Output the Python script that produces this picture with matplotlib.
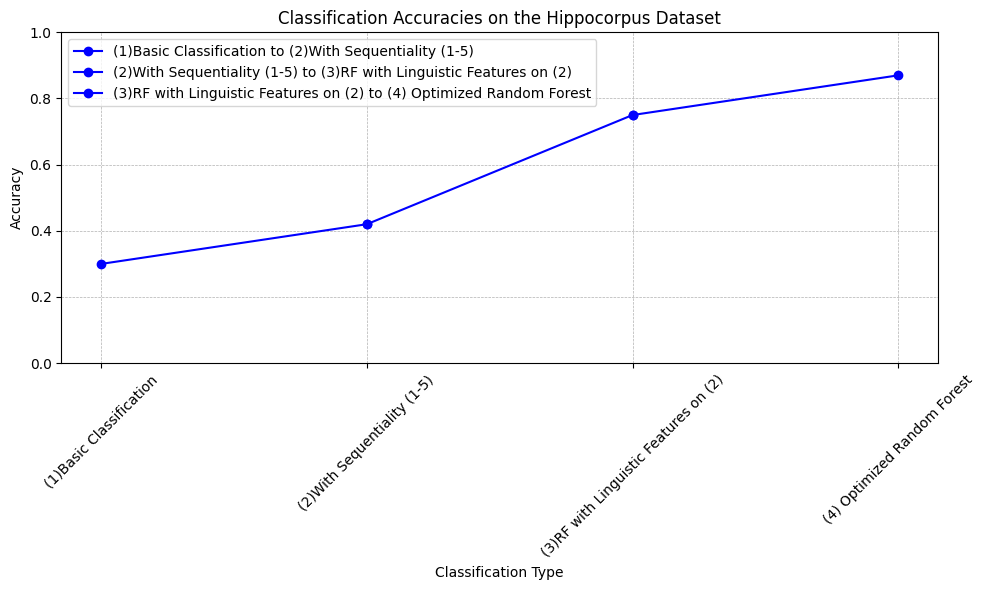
import matplotlib
matplotlib.use("Agg")
import matplotlib.pyplot as plt

categories = [
    "(1)Basic Classification",
    "(2)With Sequentiality (1-5)",
    "(3)RF with Linguistic Features on (2)",
    "(4) Optimized Random Forest",
]
accuracies = [0.30, 0.42, 0.75, 0.87]

fig, ax = plt.subplots(figsize=(10, 6), dpi=100)

# one segment per consecutive pair, each with its own legend entry
for i in range(len(categories) - 1):
    ax.plot(categories[i:i + 2], accuracies[i:i + 2], marker="o", color="blue",
            label=f"{categories[i]} to {categories[i + 1]}")

ax.set_ylim(0, 1)
ax.set_title("Classification Accuracies on the Hippocorpus Dataset")
ax.set_xlabel("Classification Type")
ax.set_ylabel("Accuracy")
ax.grid(True, linestyle="--", linewidth=0.5)
plt.xticks(rotation=45)
ax.legend(loc="upper left")
fig.tight_layout()
fig.savefig("out.png", dpi=100, bbox_inches="tight")
